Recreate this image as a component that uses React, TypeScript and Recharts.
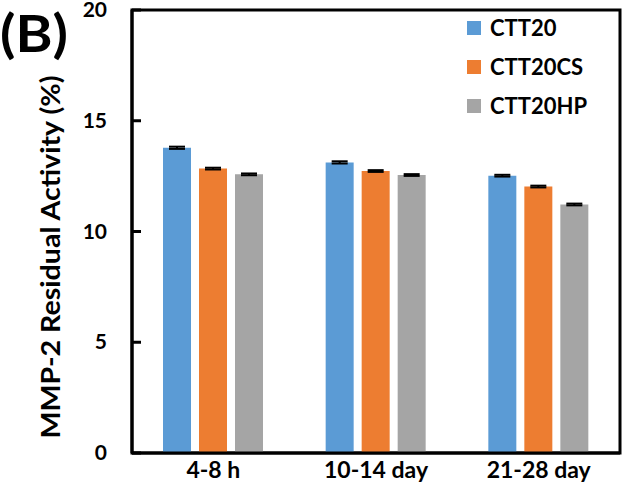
import React from 'react';
import { BarChart, Bar, XAxis, YAxis, ErrorBar, ReferenceArea } from 'recharts';

const categories = ['4-8 h', '10-14 day', '21-28 day'];
const ctt20 = [13.78, 13.12, 12.52];
const ctt20cs = [12.84, 12.73, 12.03];
const ctt20hp = [12.58, 12.55, 11.22];
const ctt20Err = [0.05, 0.05, 0.04];
const ctt20csErr = [0.04, 0.04, 0.04];
const ctt20hpErr = [0.04, 0.04, 0.04];
const yTicks = [0, 5, 10, 15, 20];

const seriesInfo = [
  { key: 'ctt20', name: 'CTT20', color: '#5B9BD5' },
  { key: 'ctt20cs', name: 'CTT20CS', color: '#ED7D31' },
  { key: 'ctt20hp', name: 'CTT20HP', color: '#A5A5A5' },
];

const data = categories.map((c, i) => ({
  cat: c,
  ctt20: ctt20[i],
  ctt20cs: ctt20cs[i],
  ctt20hp: ctt20hp[i],
  ctt20Err: ctt20Err[i],
  ctt20csErr: ctt20csErr[i],
  ctt20hpErr: ctt20hpErr[i],
}));

const font = 'Lato, "Open Sans", sans-serif';

const YTick = (props: any) => {
  const { x, y, payload } = props;
  return (
    <g>
      <line x1={x + 25} x2={x + 34} y1={y} y2={y} stroke="#000" strokeWidth={3} />
      <text x={x} y={y} dy={7} textAnchor="end" fontFamily={font} fontWeight={700} fontSize={21} fill="#000">
        {payload.value}
      </text>
    </g>
  );
};

const XTick = (props: any) => {
  const { x, y, payload } = props;
  return (
    <text x={x} y={y} dy={17} textAnchor="middle" fontFamily={font} fontWeight={700} fontSize={23} fill="#000">
      {payload.value}
    </text>
  );
};

const LegendBox = () => (
  <div
    style={{
      position: 'absolute',
      left: 467,
      top: 8,
      fontFamily: font,
      fontWeight: 700,
      fontSize: 22,
      color: '#000',
    }}
  >
    {seriesInfo.map((s) => (
      <div key={s.key} style={{ display: 'flex', alignItems: 'center', height: 39 }}>
        <span style={{ width: 14, height: 14, background: s.color, marginRight: 9, display: 'inline-block' }} />
        <span>{s.name}</span>
      </div>
    ))}
  </div>
);

export default function App() {
  return (
    <div style={{ position: 'absolute', left: 0, top: 0, width: 627, height: 491, background: '#fff' }}>
      <BarChart
        width={627}
        height={491}
        data={data}
        margin={{ top: 10, right: 7, bottom: 0, left: 0 }}
        barSize={28}
        barGap={8}
      >
        <text x={0} y={52} fontFamily={font} fontWeight={700} fontSize={52} textLength={68} lengthAdjust="spacingAndGlyphs" fill="#000">
          (B)
        </text>
        <XAxis
          dataKey="cat"
          height={38}
          axisLine={{ stroke: '#000', strokeWidth: 3 }}
          tickLine={false}
          tick={<XTick />}
          interval={0}
        />
        <YAxis
          width={132}
          domain={[0, 20]}
          ticks={yTicks}
          axisLine={{ stroke: '#000', strokeWidth: 3 }}
          tickLine={false}
          tickSize={0}
          tickMargin={25}
          tick={<YTick />}
          label={{
            content: () => (
              <text
                x={60}
                y={257}
                transform="rotate(-90 60 257)"
                textAnchor="middle"
                fontFamily={font}
                fontWeight={700}
                fontSize={27}
                textLength={363}
                lengthAdjust="spacingAndGlyphs"
                fill="#000"
              >
                MMP-2 Residual Activity (%)
              </text>
            ),
          }}
        />
        <ReferenceArea y1={0} y2={20} fill="none" stroke="#000" strokeWidth={3} />
        {seriesInfo.map((s) => (
          <Bar key={s.key} dataKey={s.key} name={s.name} fill={s.color} isAnimationActive={false}>
            <ErrorBar dataKey={s.key + 'Err'} width={8} stroke="#000" strokeWidth={2} direction="y" />
          </Bar>
        ))}
      </BarChart>
      <LegendBox />
    </div>
  );
}
